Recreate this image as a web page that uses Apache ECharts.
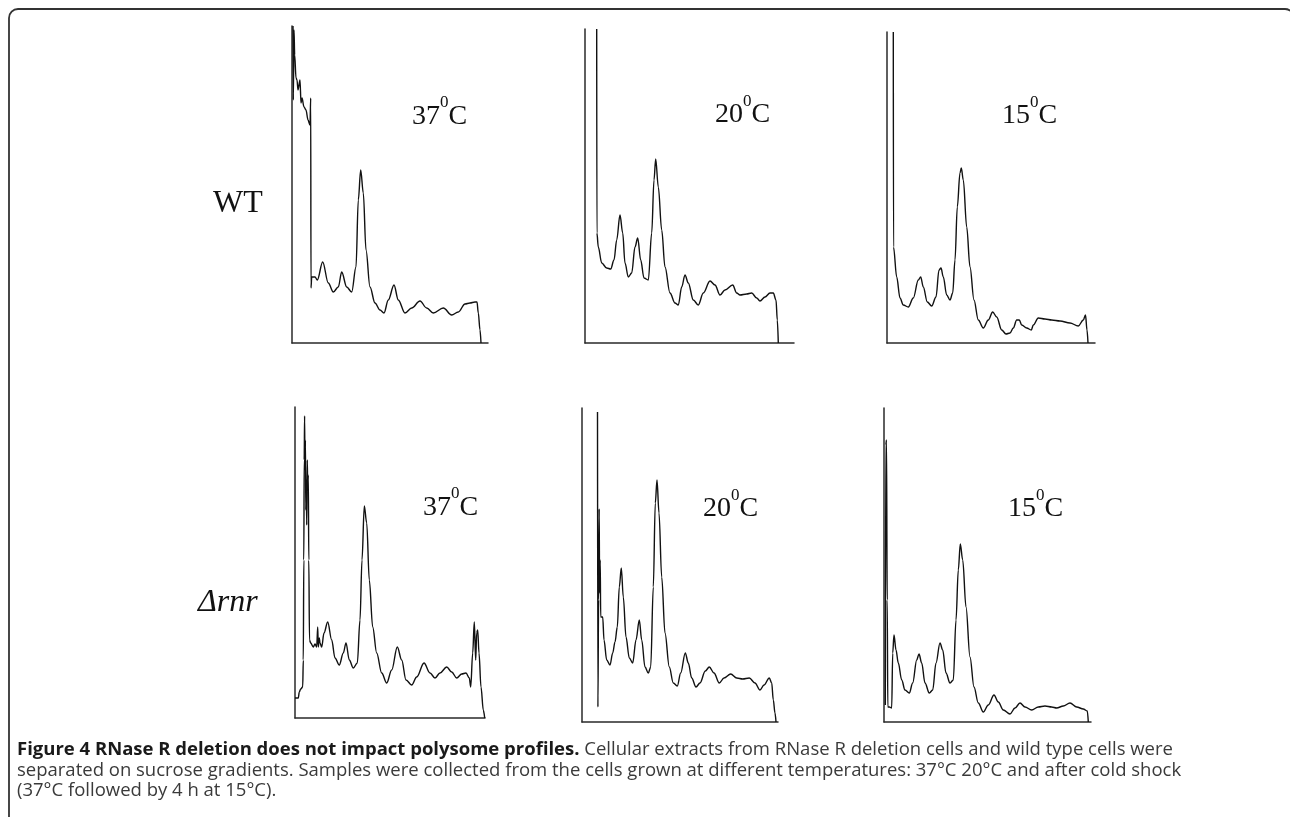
<!DOCTYPE html>
<html><head><meta charset="utf-8">
<script src="https://cdn.jsdelivr.net/npm/echarts@6/dist/echarts.min.js"></script>
<style>html,body{margin:0;padding:0;background:#fff}#c{width:1290px;height:817px}</style>
</head><body><div id="c"></div>
<script>
// ---- data (A254 trace readings: [distance along gradient, absorbance], arbitrary units) ----
const temperatures = ['37', '20', '15'];
const strains = ['WT', 'Δrnr'];

const wt37 = [[1,317],[1.3,243],[2,313],[2.7,288],[4,265],[5,263],[6,253],[8,263],[9,240],[10,245],[12,236],[14,233],[16,223],[18,218],[18.7,245],[19,55],[19.7,66],[23,66],[25.3,63],[30.7,81],[36.3,60],[41.3,51],[46.3,56],[49.7,71],[54.7,56],[59.7,51],[64,76],[66.3,143],[68.7,173],[71.3,150],[74,93],[78,56],[83,40],[88,33],[92,30],[96.3,43],[102,58],[106.3,43],[113,30],[119.7,35],[128,42],[134.7,35],[141.3,30],[151.3,35],[159.7,28],[166.3,31],[173,39],[178,40],[183,41],[185,41],[186.3,30],[188,13],[189,0]];

const wt20 = [[11.7,314],[11.9,110],[13.3,96],[16.7,80],[21.7,75],[25.7,74],[29,83],[31.7,103],[35,128],[37.7,110],[40,80],[43.3,66],[46.7,70],[50,96],[52.7,105],[55.7,83],[59,65],[63.3,63],[66.7,110],[69,163],[70.7,184],[73.3,156],[76.7,113],[80,76],[85,50],[90,40],[93.3,38],[96.7,56],[100,68],[103.3,60],[108.3,43],[113.3,38],[118.3,50],[125,62],[130,58],[135,48],[140,53],[147.7,58],[151.7,50],[155,48],[161.7,49],[166.7,50],[171.7,45],[175,42],[180,46],[185,50],[188.3,50],[191,43],[192.3,23],[193.3,0]];

const wt15 = [[6.3,311],[6.5,96],[9.7,66],[13,45],[16.3,38],[21.3,36],[26.3,45],[31.3,63],[33.7,66],[36.3,56],[40.3,41],[44.7,37],[49,46],[52,73],[54,75],[56.3,66],[59.7,48],[63,43],[65.7,50],[68,83],[70.3,136],[73,170],[74.3,175],[76.3,163],[79.7,116],[83,76],[87,43],[91.3,23],[96.3,15],[101.3,23],[105.7,31],[109.7,26],[114.7,13],[119,9],[123,10],[126.3,15],[129.7,23],[132.3,23],[134.7,18],[139.7,15],[144.3,13],[146.3,18],[151.3,25],[158,24],[164.7,23],[173,22],[183,20],[191.3,17],[196.3,23],[198.5,28],[200,13],[201,0]];

const rnr37 = [[0,20],[3.3,20],[4.3,26],[5.7,29],[7.7,31],[8.3,58],[8.8,158],[9.2,258],[9.6,302],[10,248],[10.4,278],[10.8,208],[11.3,238],[11.7,193],[12.3,258],[12.7,228],[13.3,243],[13.8,158],[14.5,78],[15.7,75],[18.3,71],[20,74],[21.7,71],[22.7,91],[23.3,71],[24.3,80],[25,75],[26.7,71],[29,85],[32.7,96],[36.7,78],[40,60],[44.3,53],[48.3,65],[51,75],[54.3,58],[58.3,50],[62.3,55],[65,98],[67,158],[69.3,212],[71.7,195],[74.3,138],[77.7,91],[81.7,65],[86.7,45],[91.7,35],[96.7,48],[102.3,71],[106.7,58],[111,38],[116.7,33],[121.7,41],[129,55],[135,45],[140,40],[145,45],[151.7,51],[156.7,46],[161.7,40],[166.7,44],[171,45],[174.3,40],[175.7,31],[177.7,65],[179.3,96],[180.7,58],[181.7,85],[182.7,88],[184,65],[186,31],[188.3,8],[189.7,0]];

const rnr20 = [[15.5,310],[15.9,15],[16.6,122],[17.2,213],[17.6,129],[18.2,162],[18.7,105],[20.7,105],[22,82],[24.7,62],[28,57],[30.7,69],[33,80],[35.3,95],[37.3,135],[39.3,154],[41.3,125],[44,85],[47.3,64],[50.7,59],[54,82],[57.3,102],[59.7,82],[63,55],[66.3,49],[68.7,55],[71.3,135],[73.3,219],[75,242],[77,209],[79.7,145],[83,89],[87.3,55],[91.3,39],[95.3,36],[98.7,49],[103.3,69],[106.3,59],[109.7,44],[114,35],[118,39],[123.3,51],[127.3,55],[132,49],[137.3,39],[142,44],[148.7,48],[154.7,44],[160.7,43],[167.3,44],[173,39],[178,32],[182,37],[187.3,44],[189.7,39],[191.3,22],[193,9],[194,0]];

const rnr15 = [[1.3,17],[1.8,277],[2.5,282],[3.2,122],[3.8,15],[5.3,15],[7.7,14],[8.7,69],[10,87],[12,72],[14.3,59],[17.7,42],[21,32],[25.3,29],[28.7,39],[32.7,62],[35,68],[37.7,59],[41,39],[45.3,29],[48.7,32],[52,59],[56,79],[58.7,72],[62,49],[66,39],[69.3,42],[72,102],[74.3,152],[76.3,178],[78.7,162],[82,115],[86,65],[90,35],[94.3,19],[99.3,10],[104.3,17],[110,27],[114.3,20],[119.3,12],[126,8],[131,14],[136,19],[141,15],[147.7,12],[154.3,15],[161,16],[167.7,15],[172.7,14],[179.3,16],[186,19],[192.7,15],[199.3,13],[203.3,11],[204.3,0]];

const captionBold = 'Figure 4 RNase R deletion does not impact polysome profiles.';
const captionLine1 = ' Cellular extracts from RNase R deletion cells and wild type cells were';
const captionLine2 = 'separated on sucrose gradients. Samples were collected from the cells grown at different temperatures: 37°C 20°C and after cold shock';
const captionLine3 = '(37°C followed by 4 h at 15°C).';

// ---- layout ----
const profiles = [wt37, wt20, wt15, rnr37, rnr20, rnr15];
const panels = [
  {left: 292, top: 26, width: 196, height: 317, tx: 412, ty: 112.5},
  {left: 585, top: 29, width: 209, height: 314, tx: 715, ty: 111},
  {left: 887, top: 32, width: 208, height: 311, tx: 1002, ty: 112},
  {left: 295, top: 407, width: 190, height: 311, tx: 423, ty: 503.5},
  {left: 582, top: 408, width: 196, height: 314, tx: 703, ty: 505},
  {left: 884, top: 408, width: 207, height: 314, tx: 1008, ty: 505}
];
const rowLabelPos = [[213, 204, 'normal'], [198, 603, 'italic']];

const serif = '"Liberation Serif", "Times New Roman", serif';
const sans = '"Open Sans", "Noto Sans", sans-serif';

// fit caption font to the measured line width
const ctx = document.createElement('canvas').getContext('2d');
ctx.font = '100px ' + sans;
const capSize = 100 * 1165 / ctx.measureText(captionLine2).width;

const chart = echarts.init(document.getElementById('c'), null, {renderer: 'canvas'});
const axisLine = {show: true, onZero: false, lineStyle: {color: '#2a2a2a', width: 1.5}};

const option = {
  backgroundColor: '#fff',
  animation: false,
  grid: panels.map(p => ({left: p.left, top: p.top, width: p.width, height: p.height, containLabel: false})),
  xAxis: panels.map((p, i) => ({type: 'value', gridIndex: i, min: 0, max: p.width, axisLine: axisLine,
    axisTick: {show: false}, axisLabel: {show: false}, splitLine: {show: false}})),
  yAxis: panels.map((p, i) => ({type: 'value', gridIndex: i, min: 0, max: p.height, axisLine: axisLine,
    axisTick: {show: false}, axisLabel: {show: false}, splitLine: {show: false}})),
  series: profiles.map((d, i) => ({type: 'line', xAxisIndex: i, yAxisIndex: i, data: d,
    showSymbol: false, symbol: 'none', smooth: 0.35, smoothMonotone: 'x',
    lineStyle: {color: '#111', width: 1.4}, silent: true})),
  graphic: [
    {type: 'rect', shape: {x: 9, y: 9, width: 1285, height: 900, r: 9},
      style: {fill: 'none', stroke: '#333', lineWidth: 1.8}, silent: true, z: -1},
    ...panels.map((p, i) => ({type: 'text', x: p.tx, y: p.ty,
      style: {text: '{a|' + temperatures[i % 3] + '}{b|0}{a|C}', align: 'left', verticalAlign: 'middle',
        rich: {
          a: {fontSize: 28, fontFamily: serif, lineHeight: 36, verticalAlign: 'bottom', fill: '#111'},
          b: {fontSize: 17, fontFamily: serif, lineHeight: 16, verticalAlign: 'top', fill: '#111'}
        }}})),
    ...strains.map((s, i) => ({type: 'text', x: rowLabelPos[i][0], y: rowLabelPos[i][1],
      style: {text: s, fontSize: 32, fontStyle: rowLabelPos[i][2], fontFamily: serif, fill: '#111',
        align: 'left', verticalAlign: 'middle'}})),
    {type: 'text', x: 17, y: 750, style: {text: '{b|' + captionBold + '}{n|' + captionLine1 + '}',
      align: 'left', verticalAlign: 'middle',
      rich: {b: {fontSize: capSize, fontFamily: sans, fontWeight: 'bold', fill: '#1a1a1a'},
             n: {fontSize: capSize, fontFamily: sans, fill: '#3a3a3a'}}}},
    {type: 'text', x: 17, y: 771, style: {text: captionLine2, fontSize: capSize, fontFamily: sans, fill: '#3a3a3a', align: 'left', verticalAlign: 'middle'}},
    {type: 'text', x: 17, y: 791, style: {text: captionLine3, fontSize: capSize, fontFamily: sans, fill: '#3a3a3a', align: 'left', verticalAlign: 'middle'}}
  ]
};
chart.setOption(option);
</script></body></html>
